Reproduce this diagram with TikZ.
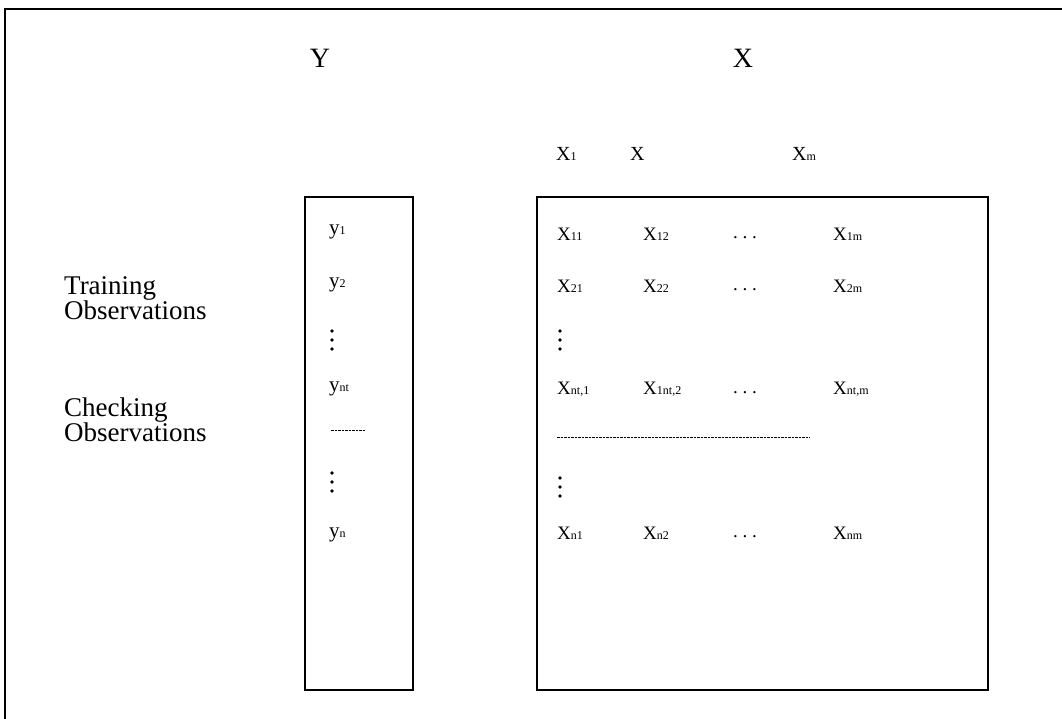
\documentclass[tikz,border=0pt]{standalone}
\usepackage{fontspec}
\setmainfont{Liberation Serif}
\newcommand{\mysub}[1]{{\fontsize{12}{12}\selectfont #1}}
\begin{document}
\begin{tikzpicture}[x=1pt,y=-1pt,
  big/.style={font=\fontsize{28}{29}\selectfont, inner sep=0pt},
  lbl/.style={font=\fontsize{27}{25}\selectfont, align=left, anchor=west, inner sep=0pt},
  ent/.style={font=\fontsize{19}{20}\selectfont, anchor=west, inner sep=0pt},
  yent/.style={font=\fontsize{21}{22}\selectfont, anchor=west, inner sep=0pt},
  hdr/.style={font=\fontsize{20}{21}\selectfont, anchor=west, inner sep=0pt},
  framebox/.style={draw, line width=1.6pt},
  dotmark/.style={fill=black},
  sep/.style={line width=0.8pt, dash pattern=on 2.5pt off 1pt}]
\useasboundingbox (0,0) rectangle (1062,719);
% outer frame (only top and left visible)
\coordinate (frTR) at (1062,9);
\coordinate (frTL) at (5,9);
\coordinate (frBL) at (5,719);
\draw[line width=1.6pt] (frTR) -- (frTL) -- (frBL);
% titles
\node[big] (Yt) at (320,58) {Y};
\node[big] (Xt) at (743,58) {X};
% column headers
\node[hdr] (h1) at (556,154) {X\mysub{1}};
\node[hdr] (h2) at (630,154) {X};
\node[hdr] (hm) at (792,154) {X\mysub{m}};
% boxes
\node[framebox, minimum width=108pt, minimum height=493pt, inner sep=0pt] (Ybox) at (359,443.5) {};
\node[framebox, minimum width=451pt, minimum height=493pt, inner sep=0pt] (Xbox) at (762.5,443.5) {};
% left labels
\node[lbl] (train) at (64,298) {Training\\Observations};
\node[lbl] (check) at (64,420) {Checking\\Observations};
% y column
\node[yent] (y1) at (329,232) {y\mysub{1}};
\node[yent] (y2) at (329,285) {y\mysub{2}};
\foreach \yy in {331,340,349} \fill[dotmark] (332,\yy) circle (1.8pt);
\node[yent] (ynt) at (329,389) {y\mysub{nt}};
\coordinate (ys1) at (331,430);
\coordinate (ys2) at (366,430);
\draw[sep] (ys1) -- (ys2);
\foreach \yy in {473,482,491} \fill[dotmark] (332,\yy) circle (1.8pt);
\node[yent] (yn) at (329,535) {y\mysub{n}};
% X matrix
\node[ent] (x11) at (557,234) {X\mysub{11}};
\node[ent] (x12) at (643,234) {X\mysub{12}};
\node[ent] (xr1) at (733,238) {.\ .\ .};
\node[ent] (x1m) at (833,234) {X\mysub{1m}};
\node[ent] (x21) at (557,286) {X\mysub{21}};
\node[ent] (x22) at (643,286) {X\mysub{22}};
\node[ent] (xr2) at (733,290) {.\ .\ .};
\node[ent] (x2m) at (833,286) {X\mysub{2m}};
\foreach \yy in {331,340,349} \fill[dotmark] (560,\yy) circle (1.8pt);
\node[ent] (xnt1) at (557,389) {X\mysub{nt,1}};
\node[ent] (xnt2) at (643,389) {X\mysub{1nt,2}};
\node[ent] (xr3) at (733,393) {.\ .\ .};
\node[ent] (xntm) at (833,389) {X\mysub{nt,m}};
\coordinate (xs1) at (557,437);
\coordinate (xs2) at (810,437);
\draw[sep] (xs1) -- (xs2);
\foreach \yy in {478,487,496} \fill[dotmark] (560,\yy) circle (1.8pt);
\node[ent] (xn1) at (557,533) {X\mysub{n1}};
\node[ent] (xn2) at (643,533) {X\mysub{n2}};
\node[ent] (xr4) at (733,537) {.\ .\ .};
\node[ent] (xnm) at (833,533) {X\mysub{nm}};
\end{tikzpicture}
\end{document}
